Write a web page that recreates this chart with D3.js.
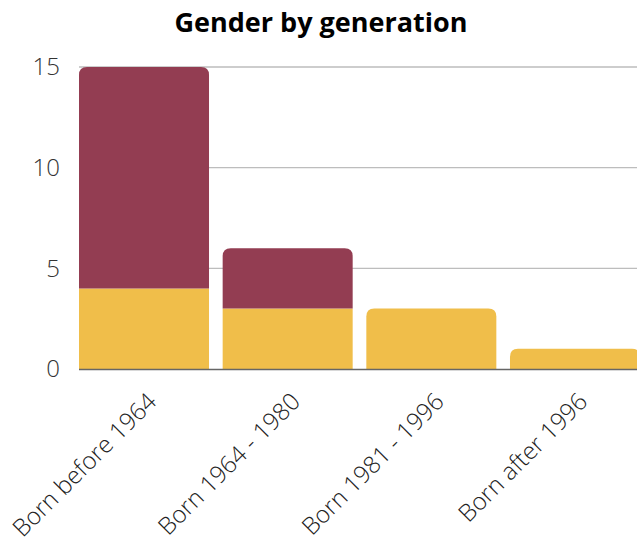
<!DOCTYPE html>
<html>
<head>
<meta charset="utf-8">
<script src="https://cdn.jsdelivr.net/npm/d3@7"></script>
<style>
  body { margin: 0; background: #fff; }
  text { font-family: "Open Sans", sans-serif; }
</style>
</head>
<body>
<div id="chart"></div>
<script>
var svgWidth = 637;
var svgHeight = 545;

// data
var categories = ["Born before 1964", "Born 1964 - 1980", "Born 1981 - 1996", "Born after 1996"];
var yellowValues = [4, 3, 3, 1];
var maroonValues = [11, 3, 0, 0];
var yTicks = [0, 5, 10, 15];

var colors = { yellow: "#F0BE4A", maroon: "#933D52" };

var margin = { top: 67, left: 79, right: -3, bottom: 176 };
var width = svgWidth - margin.left - margin.right;
var height = svgHeight - margin.top - margin.bottom;

var svg = d3.select("#chart")
    .append("svg")
    .attr("width", svgWidth)
    .attr("height", svgHeight);

svg.append("text")
    .attr("x", 321)
    .attr("y", 32)
    .attr("text-anchor", "middle")
    .attr("font-size", 27)
    .attr("font-weight", 700)
    .attr("fill", "#000")
    .text("Gender by generation");

var chartGroup = svg.append("g")
    .attr("transform", `translate(${margin.left}, ${margin.top})`);

var xScale = d3.scaleBand()
    .domain(categories)
    .range([0, width])
    .paddingInner(0.095)
    .paddingOuter(0);

var yScale = d3.scaleLinear()
    .domain([0, 15])
    .range([height, 0]);

// gridlines
chartGroup.append("g")
    .selectAll("line")
    .data(yTicks.filter(d => d > 0))
    .enter()
    .append("line")
    .attr("x1", 0)
    .attr("x2", width)
    .attr("y1", d => yScale(d))
    .attr("y2", d => yScale(d))
    .attr("stroke", "#bdbdbd")
    .attr("stroke-width", 1.3);

// y labels
var leftAxis = d3.axisLeft(yScale).tickValues(yTicks).tickSize(0).tickPadding(19);
var yAxis = chartGroup.append("g").call(leftAxis);
yAxis.select(".domain").remove();
yAxis.selectAll("text")
    .attr("font-size", 24)
    .attr("font-weight", 300)
    .attr("fill", "#333")
    .attr("font-family", "'Open Sans', sans-serif");

// rounded-top bar path
function topRounded(x, y, w, h, r) {
    r = Math.min(r, h, w / 2);
    return `M${x},${y + h}V${y + r}Q${x},${y} ${x + r},${y}H${x + w - r}Q${x + w},${y} ${x + w},${y + r}V${y + h}Z`;
}

var rows = categories.map((c, i) => ({ cat: c, y: yellowValues[i], m: maroonValues[i] }));
var bw = xScale.bandwidth();

var barGroups = chartGroup.selectAll(".bar")
    .data(rows)
    .enter()
    .append("g")
    .attr("class", "bar");

barGroups.append("path")
    .attr("fill", colors.yellow)
    .attr("d", function(d) {
        var x = xScale(d.cat);
        var top = yScale(d.y);
        var h = yScale(0) - top;
        if (d.m > 0) return `M${x},${top}h${bw}v${h}h${-bw}Z`;
        return topRounded(x, top, bw, h, 8);
    });

barGroups.filter(d => d.m > 0)
    .append("path")
    .attr("fill", colors.maroon)
    .attr("d", function(d) {
        var x = xScale(d.cat);
        var top = yScale(d.y + d.m);
        var h = yScale(d.y) - top;
        return topRounded(x, top, bw, h, 8);
    });

// baseline
chartGroup.append("line")
    .attr("x1", 0)
    .attr("x2", width)
    .attr("y1", height + 0.5)
    .attr("y2", height + 0.5)
    .attr("stroke", "#666")
    .attr("stroke-width", 1.5);

// x labels
chartGroup.selectAll(".xlabel")
    .data(categories)
    .enter()
    .append("text")
    .attr("class", "xlabel")
    .attr("transform", d => `translate(${xScale(d) + bw / 2 + 14}, ${height + 34}) rotate(-45)`)
    .attr("text-anchor", "end")
    .attr("font-size", 24)
    .attr("font-weight", 300)
    .attr("fill", "#222")
    .text(d => d);
</script>
</body>
</html>
